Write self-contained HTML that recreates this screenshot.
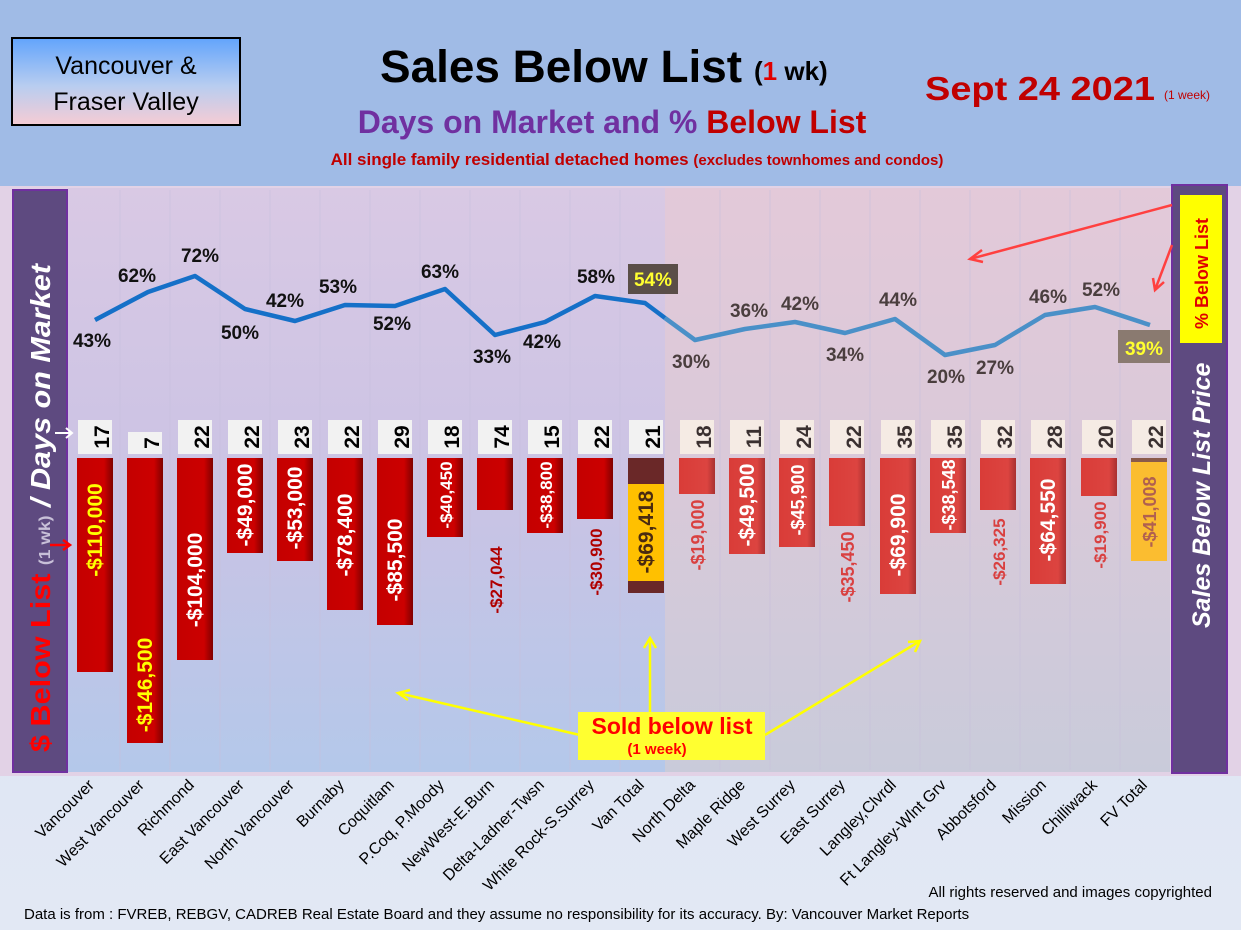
<!DOCTYPE html>
<html><head><meta charset="utf-8"><style>
html,body{margin:0;padding:0;width:1241px;height:930px;overflow:hidden;background:#dde5f3}
svg{display:block}
text{font-family:"Liberation Sans",sans-serif}
</style></head><body>
<svg width="1241" height="930" viewBox="0 0 1241 930" xmlns="http://www.w3.org/2000/svg">
<defs>
<linearGradient id="lg" x1="0" y1="0" x2="0" y2="1"><stop offset="0" stop-color="#d9c9e4"/><stop offset="0.5" stop-color="#cbc3e4"/><stop offset="1" stop-color="#b4c8ea"/></linearGradient>
<linearGradient id="rg" x1="0" y1="0" x2="0" y2="1"><stop offset="0" stop-color="#e3c9d9"/><stop offset="0.5" stop-color="#d9c9d9"/><stop offset="1" stop-color="#c9cbda"/></linearGradient>
<linearGradient id="boxg" x1="0" y1="0" x2="0" y2="1"><stop offset="0" stop-color="#62a4fc"/><stop offset="0.55" stop-color="#b8cdf0"/><stop offset="1" stop-color="#f6ccd4"/></linearGradient>
<linearGradient id="botg" x1="0" y1="0" x2="0" y2="1"><stop offset="0" stop-color="#d6e0f2"/><stop offset="1" stop-color="#e2e8f4"/></linearGradient>
<linearGradient id="barL" x1="0" y1="0" x2="1" y2="0"><stop offset="0" stop-color="#c40000"/><stop offset="0.75" stop-color="#cc0000"/><stop offset="1" stop-color="#800000"/></linearGradient>
<linearGradient id="barR" x1="0" y1="0" x2="1" y2="0"><stop offset="0" stop-color="#d93c38"/><stop offset="0.78" stop-color="#dc4440"/><stop offset="1" stop-color="#a83030"/></linearGradient>
</defs>
<rect x="0" y="0" width="1241" height="930" fill="url(#botg)"/>
<rect x="0" y="0" width="1241" height="186" fill="#a0bbe6"/>
<rect x="0" y="186" width="1241" height="590" fill="#e2d2e6"/>
<rect x="68" y="188" width="597" height="584" fill="url(#lg)"/>
<rect x="665" y="188" width="505" height="584" fill="url(#rg)"/>

<!-- header -->
<rect x="12" y="38" width="228" height="87" fill="url(#boxg)" stroke="#000" stroke-width="2"/>
<text x="126" y="74" font-size="25" text-anchor="middle" fill="#000">Vancouver &amp;</text>
<text x="126" y="110" font-size="25" text-anchor="middle" fill="#000">Fraser Valley</text>
<text x="380" y="82" font-size="45" font-weight="bold" fill="#000" textLength="362" lengthAdjust="spacingAndGlyphs">Sales Below List</text>
<text x="754" y="80" font-size="26" font-weight="bold" fill="#000">(<tspan fill="#e00000">1</tspan> wk)</text>
<text x="612" y="133" font-size="32" font-weight="bold" text-anchor="middle" fill="#7030a0">Days on Market and % <tspan fill="#c00000">Below List</tspan></text>
<text x="637" y="165" font-size="17" font-weight="bold" text-anchor="middle" fill="#c00000">All single family residential detached homes <tspan font-size="15">(excludes townhomes and condos)</tspan></text>
<text x="925" y="100" font-size="33" font-weight="bold" fill="#c00000" textLength="230" lengthAdjust="spacingAndGlyphs">Sept 24  2021</text>
<text x="1164" y="99" font-size="12" fill="#c00000">(1 week)</text>

<!-- grid lines -->
<g stroke="#c8c0dc" stroke-width="1" opacity="0.6">
<line x1="120" y1="190" x2="120" y2="770"/><line x1="170" y1="190" x2="170" y2="770"/><line x1="220" y1="190" x2="220" y2="770"/><line x1="270" y1="190" x2="270" y2="770"/><line x1="320" y1="190" x2="320" y2="770"/><line x1="370" y1="190" x2="370" y2="770"/><line x1="420" y1="190" x2="420" y2="770"/><line x1="470" y1="190" x2="470" y2="770"/><line x1="520" y1="190" x2="520" y2="770"/><line x1="570" y1="190" x2="570" y2="770"/><line x1="620" y1="190" x2="620" y2="770"/><line x1="720" y1="190" x2="720" y2="770"/><line x1="770" y1="190" x2="770" y2="770"/><line x1="820" y1="190" x2="820" y2="770"/><line x1="870" y1="190" x2="870" y2="770"/><line x1="920" y1="190" x2="920" y2="770"/><line x1="970" y1="190" x2="970" y2="770"/><line x1="1020" y1="190" x2="1020" y2="770"/><line x1="1070" y1="190" x2="1070" y2="770"/><line x1="1120" y1="190" x2="1120" y2="770"/>
</g>

<!-- side panels -->
<rect x="13" y="190" width="54" height="582" fill="#5e4a80" stroke="#7030a0" stroke-width="2"/>
<rect x="1172" y="185" width="55" height="588" fill="#5e4a80" stroke="#7030a0" stroke-width="2"/>
<text transform="translate(50,752) rotate(-90)" font-size="28" font-weight="bold" fill="#ff0000" textLength="488" lengthAdjust="spacingAndGlyphs">$ Below List <tspan font-size="16" fill="#c8c0d8">(1 wk)</tspan> <tspan fill="#fff" font-style="italic">/ Days on Market</tspan></text>
<text transform="translate(1210,628) rotate(-90)" font-size="25" font-weight="bold" font-style="italic" fill="#fff">Sales Below List Price</text>
<rect x="1180" y="195" width="42" height="148" fill="#ffff00"/>
<text transform="translate(1208,329) rotate(-90)" font-size="18" font-weight="bold" fill="#e00000">% Below List</text>

<!-- bars -->
<g>
<rect x="77" y="458" width="36" height="214" fill="url(#barL)"/>
<rect x="127" y="458" width="36" height="285" fill="url(#barL)"/>
<rect x="177" y="458" width="36" height="202" fill="url(#barL)"/>
<rect x="227" y="458" width="36" height="95" fill="url(#barL)"/>
<rect x="277" y="458" width="36" height="103" fill="url(#barL)"/>
<rect x="327" y="458" width="36" height="152" fill="url(#barL)"/>
<rect x="377" y="458" width="36" height="167" fill="url(#barL)"/>
<rect x="427" y="458" width="36" height="79" fill="url(#barL)"/>
<rect x="477" y="458" width="36" height="52" fill="url(#barL)"/>
<rect x="527" y="458" width="36" height="75" fill="url(#barL)"/>
<rect x="577" y="458" width="36" height="61" fill="url(#barL)"/>
<rect x="628" y="458" width="36" height="135" fill="#6a2828"/>
<rect x="628" y="484" width="36" height="97" fill="#ffc000"/>
<rect x="679" y="458" width="36" height="36" fill="url(#barR)"/>
<rect x="729" y="458" width="36" height="96" fill="url(#barR)"/>
<rect x="779" y="458" width="36" height="89" fill="url(#barR)"/>
<rect x="829" y="458" width="36" height="68" fill="url(#barR)"/>
<rect x="880" y="458" width="36" height="136" fill="url(#barR)"/>
<rect x="930" y="458" width="36" height="75" fill="url(#barR)"/>
<rect x="980" y="458" width="36" height="52" fill="url(#barR)"/>
<rect x="1030" y="458" width="36" height="126" fill="url(#barR)"/>
<rect x="1081" y="458" width="36" height="38" fill="url(#barR)"/>
<rect x="1131" y="458" width="36" height="82" fill="#8a5a4a"/>
<rect x="1131" y="462" width="36" height="99" fill="#fbbd30"/>
</g>

<!-- bar labels -->
<g font-size="21" font-weight="bold" text-anchor="middle">
<text transform="translate(102,530) rotate(-90)" fill="#ffff00">-$110,000</text>
<text transform="translate(152,685) rotate(-90)" fill="#ffff00">-$146,500</text>
<text transform="translate(202,580) rotate(-90)" fill="#fff">-$104,000</text>
<text transform="translate(252,505) rotate(-90)" fill="#fff">-$49,000</text>
<text transform="translate(302,508) rotate(-90)" fill="#fff">-$53,000</text>
<text transform="translate(352,535) rotate(-90)" fill="#fff">-$78,400</text>
<text transform="translate(402,560) rotate(-90)" fill="#fff">-$85,500</text>
<text transform="translate(452,495) rotate(-90)" fill="#fff" font-size="17">-$40,450</text>
<text transform="translate(502,580) rotate(-90)" fill="#b00000" font-size="17">-$27,044</text>
<text transform="translate(552,495) rotate(-90)" fill="#fff" font-size="17">-$38,800</text>
<text transform="translate(602,562) rotate(-90)" fill="#b00000" font-size="17">-$30,900</text>
<text transform="translate(653,532) rotate(-90)" fill="#4a2a10">-$69,418</text>
<text transform="translate(704,535) rotate(-90)" fill="#d94040" font-size="18">-$19,000</text>
<text transform="translate(754,505) rotate(-90)" fill="#fff">-$49,500</text>
<text transform="translate(804,500) rotate(-90)" fill="#fff" font-size="18">-$45,900</text>
<text transform="translate(854,567) rotate(-90)" fill="#d94040" font-size="18">-$35,450</text>
<text transform="translate(905,535) rotate(-90)" fill="#fff">-$69,900</text>
<text transform="translate(955,495) rotate(-90)" fill="#fff" font-size="18">-$38,548</text>
<text transform="translate(1005,552) rotate(-90)" fill="#d94040" font-size="17">-$26,325</text>
<text transform="translate(1055,520) rotate(-90)" fill="#fff">-$64,550</text>
<text transform="translate(1106,535) rotate(-90)" fill="#d94040" font-size="17">-$19,900</text>
<text transform="translate(1156,512) rotate(-90)" fill="#b06050" font-size="18">-$41,008</text>
</g>

<!-- days boxes -->
<g>
<rect x="78" y="420" width="34" height="34" fill="#f2f2f2"/>
<rect x="128" y="432" width="34" height="22" fill="#f2f2f2"/>
<rect x="178" y="420" width="34" height="34" fill="#f2f2f2"/>
<rect x="228" y="420" width="34" height="34" fill="#f2f2f2"/>
<rect x="278" y="420" width="34" height="34" fill="#f2f2f2"/>
<rect x="328" y="420" width="34" height="34" fill="#f2f2f2"/>
<rect x="378" y="420" width="34" height="34" fill="#f2f2f2"/>
<rect x="428" y="420" width="34" height="34" fill="#f2f2f2"/>
<rect x="478" y="420" width="34" height="34" fill="#f2f2f2"/>
<rect x="528" y="420" width="34" height="34" fill="#f2f2f2"/>
<rect x="578" y="420" width="34" height="34" fill="#f2f2f2"/>
<rect x="629" y="420" width="34" height="34" fill="#f2f2f2"/>
<rect x="680" y="420" width="34" height="34" fill="#f5ebe4"/>
<rect x="730" y="420" width="34" height="34" fill="#f5ebe4"/>
<rect x="780" y="420" width="34" height="34" fill="#f5ebe4"/>
<rect x="830" y="420" width="34" height="34" fill="#f5ebe4"/>
<rect x="881" y="420" width="34" height="34" fill="#f5ebe4"/>
<rect x="931" y="420" width="34" height="34" fill="#f5ebe4"/>
<rect x="981" y="420" width="34" height="34" fill="#f5ebe4"/>
<rect x="1031" y="420" width="34" height="34" fill="#f5ebe4"/>
<rect x="1082" y="420" width="34" height="34" fill="#f5ebe4"/>
<rect x="1132" y="420" width="34" height="34" fill="#f5ebe4"/>
</g>
<g font-size="21" font-weight="bold" text-anchor="middle">
<text transform="translate(102,437) rotate(-90)" dy="7" fill="#000">17</text>
<text transform="translate(152,443) rotate(-90)" dy="7" fill="#000">7</text>
<text transform="translate(202,437) rotate(-90)" dy="7" fill="#000">22</text>
<text transform="translate(252,437) rotate(-90)" dy="7" fill="#000">22</text>
<text transform="translate(302,437) rotate(-90)" dy="7" fill="#000">23</text>
<text transform="translate(352,437) rotate(-90)" dy="7" fill="#000">22</text>
<text transform="translate(402,437) rotate(-90)" dy="7" fill="#000">29</text>
<text transform="translate(452,437) rotate(-90)" dy="7" fill="#000">18</text>
<text transform="translate(502,437) rotate(-90)" dy="7" fill="#000">74</text>
<text transform="translate(552,437) rotate(-90)" dy="7" fill="#000">15</text>
<text transform="translate(602,437) rotate(-90)" dy="7" fill="#000">22</text>
<text transform="translate(653,437) rotate(-90)" dy="7" fill="#000">21</text>
<text transform="translate(704,437) rotate(-90)" dy="7" fill="#3a3030">18</text>
<text transform="translate(754,437) rotate(-90)" dy="7" fill="#3a3030">11</text>
<text transform="translate(804,437) rotate(-90)" dy="7" fill="#3a3030">24</text>
<text transform="translate(854,437) rotate(-90)" dy="7" fill="#3a3030">22</text>
<text transform="translate(905,437) rotate(-90)" dy="7" fill="#3a3030">35</text>
<text transform="translate(955,437) rotate(-90)" dy="7" fill="#3a3030">35</text>
<text transform="translate(1005,437) rotate(-90)" dy="7" fill="#3a3030">32</text>
<text transform="translate(1055,437) rotate(-90)" dy="7" fill="#3a3030">28</text>
<text transform="translate(1106,437) rotate(-90)" dy="7" fill="#3a3030">20</text>
<text transform="translate(1156,437) rotate(-90)" dy="7" fill="#3a3030">22</text>
</g>

<!-- line -->
<polyline points="95,320 148,292 195,276 245,309 295,321 345,305 395,306 445,289 495,335 545,322 595,296 645,303 665,318" fill="none" stroke="#1570c8" stroke-width="4.5" stroke-linejoin="round"/>
<polyline points="665,318 695,340 745,329 795,322 845,333 895,319 945,355 995,345 1045,315 1095,307 1150,325" fill="none" stroke="#4a90c8" stroke-width="4.5" stroke-linejoin="round"/>
<g font-size="19" font-weight="bold" text-anchor="middle" fill="#111">
<text x="92" y="347">43%</text><text x="137" y="282">62%</text><text x="200" y="262">72%</text>
<text x="240" y="339">50%</text><text x="285" y="307">42%</text><text x="338" y="293">53%</text>
<text x="392" y="330">52%</text><text x="440" y="278">63%</text><text x="492" y="363">33%</text>
<text x="542" y="348">42%</text><text x="596" y="283">58%</text>
</g>
<rect x="628" y="264" width="50" height="30" fill="#5a4e48"/>
<text x="653" y="286" font-size="19" font-weight="bold" text-anchor="middle" fill="#ffff30">54%</text>
<g font-size="19" font-weight="bold" text-anchor="middle" fill="#4a3e3e">
<text x="691" y="368">30%</text><text x="749" y="317">36%</text><text x="800" y="310">42%</text>
<text x="845" y="361">34%</text><text x="898" y="306">44%</text><text x="946" y="383">20%</text>
<text x="995" y="374">27%</text><text x="1048" y="303">46%</text><text x="1101" y="296">52%</text>
</g>
<rect x="1118" y="330" width="52" height="33" fill="#8a7a70"/>
<text x="1144" y="355" font-size="19" font-weight="bold" text-anchor="middle" fill="#ffff30">39%</text>

<!-- annotation arrows -->
<g stroke="#ff4040" stroke-width="2.5" fill="none">
<line x1="1172" y1="205" x2="970" y2="259"/><polyline points="982,250 970,259 983,262"/>
<line x1="1172" y1="245" x2="1155" y2="290"/><polyline points="1153,278 1155,290 1164,282"/>
</g>
<g stroke="#ff0000" stroke-width="2.5" fill="none">
<line x1="50" y1="545" x2="70" y2="545"/><polyline points="63,540 70,545 63,550"/>
</g>
<g stroke="#fff" stroke-width="2" fill="none">
<line x1="55" y1="433" x2="72" y2="433"/><polyline points="66,428 72,433 66,438"/>
</g>
<g stroke="#ffff00" stroke-width="2.5" fill="none">
<line x1="580" y1="735" x2="398" y2="693"/><polyline points="410,690 398,693 408,700"/>
<line x1="650" y1="712" x2="650" y2="638"/><polyline points="644,648 650,638 656,648"/>
<line x1="765" y1="735" x2="920" y2="641"/><polyline points="908,642 920,641 915,652"/>
</g>
<rect x="578" y="712" width="187" height="48" fill="#ffff30"/>
<text x="672" y="734" font-size="23" font-weight="bold" text-anchor="middle" fill="#ff0000">Sold below list</text>
<text x="657" y="754" font-size="15" font-weight="bold" text-anchor="middle" fill="#ff0000">(1 week)</text>

<!-- x labels -->
<g font-size="16" text-anchor="end" fill="#000">
<text transform="translate(95,786) rotate(-45)">Vancouver</text>
<text transform="translate(145,786) rotate(-45)">West Vancouver</text>
<text transform="translate(195,786) rotate(-45)">Richmond</text>
<text transform="translate(245,786) rotate(-45)">East Vancouver</text>
<text transform="translate(295,786) rotate(-45)">North Vancouver</text>
<text transform="translate(345,786) rotate(-45)">Burnaby</text>
<text transform="translate(395,786) rotate(-45)">Coquitlam</text>
<text transform="translate(445,786) rotate(-45)">P.Coq, P.Moody</text>
<text transform="translate(495,786) rotate(-45)">NewWest-E.Burn</text>
<text transform="translate(545,786) rotate(-45)">Delta-Ladner-Twsn</text>
<text transform="translate(595,786) rotate(-45)">White Rock-S.Surrey</text>
<text transform="translate(645,786) rotate(-45)">Van Total</text>
<text transform="translate(696,786) rotate(-45)">North Delta</text>
<text transform="translate(746,786) rotate(-45)">Maple Ridge</text>
<text transform="translate(796,786) rotate(-45)">West Surrey</text>
<text transform="translate(846,786) rotate(-45)">East Surrey</text>
<text transform="translate(897,786) rotate(-45)">Langley,Clvrdl</text>
<text transform="translate(947,786) rotate(-45)">Ft Langley-Wlnt Grv</text>
<text transform="translate(997,786) rotate(-45)">Abbotsford</text>
<text transform="translate(1047,786) rotate(-45)">Mission</text>
<text transform="translate(1098,786) rotate(-45)">Chilliwack</text>
<text transform="translate(1148,786) rotate(-45)">FV Total</text>
</g>
<text x="1212" y="897" font-size="15" text-anchor="end" fill="#000">All rights reserved and  images copyrighted</text>
<text x="24" y="919" font-size="15" fill="#000">Data is from : FVREB, REBGV, CADREB Real Estate Board and they assume no responsibility for its accuracy. By: Vancouver Market Reports</text>
</svg>
</body></html>
